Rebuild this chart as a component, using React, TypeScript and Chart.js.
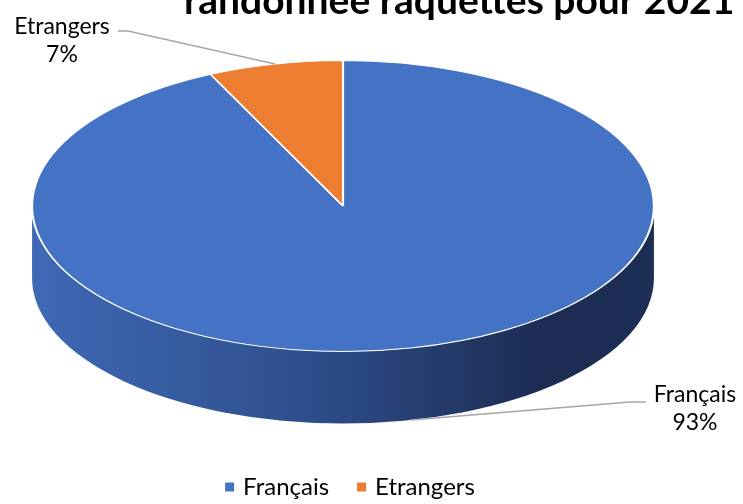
import React, { useEffect, useRef } from 'react';
import { Chart, registerables } from 'chart.js';

Chart.register(...registerables);

// ---- data ----
const categories: string[] = ['Français', 'Etrangers'];
const values: number[] = [93, 7];
const sliceColors: string[] = ['#4472C4', '#ED7D31'];
const sideShades: string[][] = [
  ['#3F69B6', '#2D4E8B', '#1C2C52', '#1D2E55'],
  ['#C7692A', '#A8581F', '#7A3F16', '#7E4217'],
];
const titleLine = 'randonnée raquettes pour 2021';

// ---- layout constants (positions / styles only) ----
const W = 743;
const H = 504;
const STRETCH = 312 / 146; // horizontal stretch of the pie (ellipse)
const DEPTH = 72; // extrusion height in px
const FONT = 'Lato, "Open Sans", sans-serif';
const labelPlaces = [
  { tx: 695, ty: 395, edgeX: 646, elbowX: 630, edgeY: 402 },
  { tx: 62, ty: 27, edgeX: 118, elbowX: 128, edgeY: 31 },
];

const pie3d = {
  id: 'pie3d',
  beforeDatasetsDraw(chart: any) {
    const meta = chart.getDatasetMeta(0);
    const arcs = meta.data;
    if (!arcs.length) return;
    const ctx = chart.ctx as CanvasRenderingContext2D;
    const { x: cx, y: cy, outerRadius: r } = arcs[0];
    ctx.save();
    ctx.translate(cx, cy);
    ctx.scale(STRETCH, 1);
    ctx.translate(-cx, -cy);
    arcs.forEach((arc: any, i: number) => {
      const shades = sideShades[i % sideShades.length];
      for (const off of [-2 * Math.PI, 0, 2 * Math.PI]) {
        const a0 = Math.max(arc.startAngle + off, 0);
        const a1 = Math.min(arc.endAngle + off, Math.PI);
        if (a1 <= a0) continue;
        const g = ctx.createLinearGradient(cx - r, 0, cx + r, 0);
        g.addColorStop(0, shades[0]);
        g.addColorStop(0.45, shades[1]);
        g.addColorStop(0.82, shades[2]);
        g.addColorStop(1, shades[3]);
        ctx.beginPath();
        ctx.arc(cx, cy, r, a0, a1, false);
        ctx.arc(cx, cy + DEPTH, r, a1, a0, true);
        ctx.closePath();
        ctx.fillStyle = g;
        ctx.fill();
      }
    });
    // the transform stays active while the slices are drawn
  },
  afterDatasetsDraw(chart: any) {
    const meta = chart.getDatasetMeta(0);
    if (!meta.data.length) return;
    chart.ctx.restore();
  },
  afterDraw(chart: any) {
    const ctx = chart.ctx as CanvasRenderingContext2D;
    const meta = chart.getDatasetMeta(0);
    const arcs = meta.data;
    if (!arcs.length) return;
    const data = chart.data.datasets[0].data as number[];
    const total = data.reduce((a, b) => a + b, 0);
    const { x: cx, y: cy, outerRadius: r } = arcs[0];

    // title (first line lies above the visible area)
    ctx.save();
    ctx.fillStyle = '#000000';
    ctx.font = `bold 39px ${FONT}`;
    ctx.textAlign = 'left';
    ctx.textBaseline = 'alphabetic';
    ctx.fillText(titleLine, 184, 14);
    ctx.restore();

    // data labels with leader lines
    arcs.forEach((arc: any, i: number) => {
      const m = (arc.startAngle + arc.endAngle) / 2;
      const ax = cx + r * STRETCH * Math.cos(m);
      let ay = cy + r * Math.sin(m);
      if (Math.sin(m) > 0) ay += DEPTH;
      const p = labelPlaces[i];
      ctx.save();
      ctx.strokeStyle = '#A6A6A6';
      ctx.lineWidth = 1.3;
      ctx.beginPath();
      ctx.moveTo(ax, ay);
      ctx.lineTo(p.elbowX, p.edgeY);
      ctx.lineTo(p.edgeX, p.edgeY);
      ctx.stroke();
      ctx.fillStyle = '#000000';
      ctx.font = `23px ${FONT}`;
      ctx.textAlign = 'center';
      ctx.textBaseline = 'middle';
      ctx.fillText(String(chart.data.labels[i]), p.tx, p.ty);
      ctx.fillText(`${Math.round((data[i] / total) * 100)}%`, p.tx, p.ty + 28);
      ctx.restore();
    });

    // legend
    ctx.save();
    ctx.font = `24px ${FONT}`;
    ctx.textBaseline = 'middle';
    ctx.textAlign = 'left';
    const box = 9;
    const gapBoxText = 9;
    const gapItems = 28;
    const widths = (chart.data.labels as string[]).map((l) => box + gapBoxText + ctx.measureText(l).width);
    const totalW = widths.reduce((a, b) => a + b, 0) + gapItems * (widths.length - 1);
    let x = 350 - totalW / 2;
    const ly = 487;
    (chart.data.labels as string[]).forEach((l, i) => {
      ctx.fillStyle = sliceColors[i];
      ctx.fillRect(x, ly - box / 2, box, box);
      ctx.fillStyle = '#000000';
      ctx.fillText(l, x + box + gapBoxText, ly);
      x += widths[i] + gapItems;
    });
    ctx.restore();
  },
};

export default function App() {
  const ref = useRef<HTMLCanvasElement | null>(null);
  useEffect(() => {
    if (!ref.current) return;
    const chart = new Chart(ref.current, {
      type: 'pie',
      data: {
        labels: categories,
        datasets: [
          {
            data: values,
            backgroundColor: sliceColors,
            borderColor: '#FFFFFF',
            borderWidth: 1,
            clip: false as any,
          },
        ],
      },
      options: {
        responsive: false,
        animation: false,
        events: [],
        layout: { padding: { top: 60, bottom: 152, left: 197, right: 254 } },
        plugins: {
          legend: { display: false },
          title: { display: false },
          tooltip: { enabled: false },
        },
      },
      plugins: [pie3d],
    });
    return () => chart.destroy();
  }, []);
  return (
    <div style={{ position: 'fixed', left: 0, top: 0, width: W, height: H, background: '#FFFFFF' }}>
      <canvas ref={ref} width={W} height={H} style={{ display: 'block' }} />
    </div>
  );
}
